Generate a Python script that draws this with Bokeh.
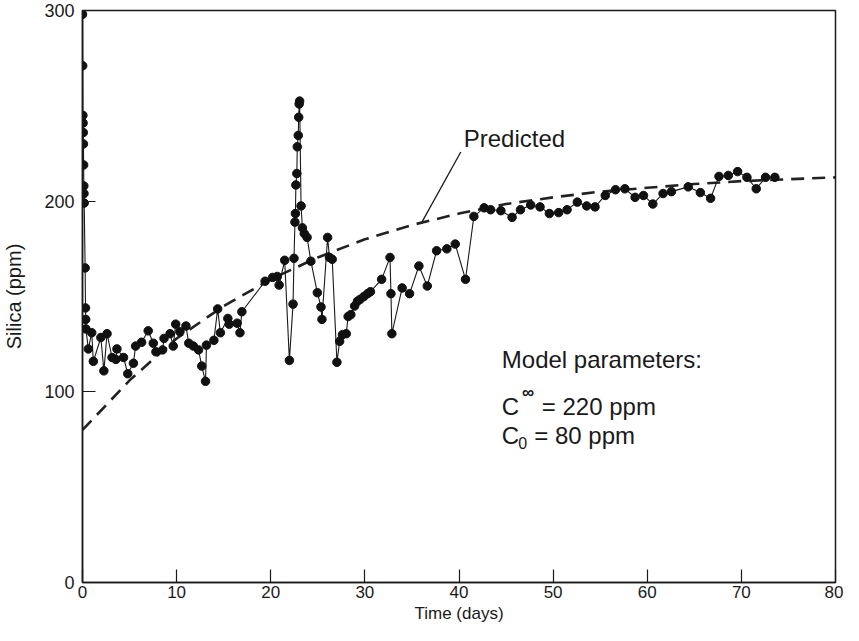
from bokeh.plotting import figure
from bokeh.models import Range1d, FixedTicker, Label, ColumnDataSource
from bokeh.embed import file_html
from bokeh.resources import INLINE

# ---- data ----
time_days = [
    0.00, 0.02, 0.04, 0.06, 0.08, 0.10, 0.12, 0.14, 0.16, 0.18,
    0.28, 0.32, 0.34, 0.36, 0.62, 0.98, 1.15, 1.95, 2.27, 2.61,
    3.14, 3.55, 3.66, 4.36, 4.81, 5.41, 5.64, 6.28, 6.98, 7.52,
    7.80, 8.51, 8.66, 9.30, 9.64, 9.90, 10.35, 10.99, 11.29, 11.78,
    12.33, 12.67, 13.07, 13.17, 13.96, 14.36, 14.65, 15.44, 15.59, 16.43,
    16.73, 16.93, 19.40, 20.20, 20.69, 20.89, 21.48, 21.98, 22.37, 22.47,
    22.57, 22.62, 22.67, 22.77, 22.82, 22.92, 22.97, 23.02, 23.07, 23.22,
    23.36, 23.56, 23.86, 24.26, 24.95, 25.34, 25.44, 26.04, 26.24, 26.53,
    27.03, 27.32, 27.62, 28.02, 28.22, 28.51, 28.91, 29.21, 29.50, 29.90,
    30.29, 30.59, 31.78, 32.67, 32.77, 32.87, 33.96, 34.75, 35.74, 36.63,
    37.62, 38.71, 39.60, 40.69, 41.58, 42.67, 43.36, 44.45, 45.64, 46.53,
    47.62, 48.61, 49.60, 50.59, 51.48, 52.57, 53.56, 54.45, 55.54, 56.63,
    57.62, 58.71, 59.60, 60.59, 61.68, 62.57, 64.35, 65.64, 66.73, 67.62,
    68.61, 69.60, 70.59, 71.58, 72.57, 73.56,
]
silica_ppm = [
    298, 271, 245, 241, 236, 230, 219, 208, 204, 199,
    165, 144, 138, 133, 122.5, 131, 116, 128.5, 111, 130.5,
    118, 117, 122.5, 118, 109.5, 115, 124, 126, 132, 125.5,
    121, 122, 128, 130.5, 124, 135.5, 131.5, 134.5, 125.5, 124,
    122, 113.5, 105.5, 124.5, 127, 143.5, 131, 138.5, 135.5, 136,
    131, 142, 158, 160, 160.5, 156, 169, 116.5, 146, 170,
    189, 193.5, 208.5, 214.5, 228.5, 234.5, 244, 251, 252.5, 197.5,
    186, 183, 181, 168.5, 152, 144.5, 138, 181, 170.5, 169.5,
    115.5, 126.5, 130, 130.5, 139.5, 140.5, 145, 147.5, 148.5, 150,
    151.5, 152.5, 159, 170.5, 151.5, 130.5, 154.5, 151.5, 166, 155.5,
    174, 175, 177.5, 159, 192, 196.5, 195.5, 195, 191.5, 195.5,
    198, 197, 193.5, 194, 195.5, 199.5, 197.5, 197, 203, 206,
    206.5, 202, 203, 198.5, 204, 205, 207.5, 204.5, 201.5, 213,
    213.5, 215.5, 212.5, 206.5, 212.5, 212.5,
]

# predicted (model) curve
pred_time = [0, 5, 10, 15, 20, 25, 30, 35, 40, 45, 50, 55, 60, 65, 70, 75, 80]
pred_silica = [80, 106, 128, 145, 159, 170.5, 180, 187.5, 193.5, 198.5, 202, 205, 207, 209, 210.5, 211.5, 212.5]

x_ticks = [0, 10, 20, 30, 40, 50, 60, 70, 80]
y_ticks = [0, 100, 200, 300]

FONT = "Liberation Sans"
INK = "#1a1a1a"

p = figure(width=843, height=625, output_backend="svg", toolbar_location=None,
           x_range=Range1d(0, 80), y_range=Range1d(0, 300),
           min_border_left=79, min_border_right=8, min_border_top=10,
           min_border_bottom=40)

p.grid.visible = False
p.outline_line_color = INK
p.outline_line_width = 1.5
p.outline_line_alpha = 1.0
p.background_fill_color = "white"
p.border_fill_color = "white"

for ax in (p.xaxis[0], p.yaxis[0]):
    ax.axis_line_color = INK
    ax.axis_line_width = 1.5
    ax.major_tick_line_color = INK
    ax.major_tick_line_width = 1.2
    ax.major_tick_in = 13
    ax.major_tick_out = 0
    ax.minor_tick_line_color = None
    ax.major_label_text_font = FONT
    ax.major_label_text_color = INK
    ax.axis_label_text_font = FONT
    ax.axis_label_text_font_style = "normal"
    ax.axis_label_text_color = INK

p.xaxis.ticker = FixedTicker(ticks=x_ticks)
p.yaxis.ticker = FixedTicker(ticks=y_ticks)
p.xaxis.axis_label = "Time (days)"
p.yaxis.axis_label = "Silica (ppm)"
p.xaxis.major_label_text_font_size = "17px"
p.yaxis.major_label_text_font_size = "18px"
p.xaxis.axis_label_text_font_size = "17px"
p.yaxis.axis_label_text_font_size = "20px"
p.xaxis.major_label_standoff = 3
p.xaxis.axis_label_standoff = 3
p.yaxis.major_label_standoff = 8
p.yaxis.axis_label_standoff = 16

# predicted dashed curve
p.line(pred_time, pred_silica, line_color="#222222", line_width=2.6, line_dash="13 8")

# observed data
src = ColumnDataSource(dict(t=time_days, c=silica_ppm))
p.line("t", "c", source=src, line_color=INK, line_width=1.1)
p.scatter("t", "c", source=src, size=8.5, fill_color="#111111", line_color="#111111")

# "Predicted" callout
p.segment(x0=[36.06], y0=[189.0], x1=[40.19], y1=[225.8], line_color=INK, line_width=1.3)
p.add_layout(Label(x=40.5, y=233, text="Predicted", text_font=FONT, text_font_size="24px",
                   text_color=INK, text_baseline="middle", text_align="left"))

# model parameters
p.add_layout(Label(x=44.55, y=116.8, text="Model parameters:", text_font=FONT,
                   text_font_size="24px", text_color=INK, text_baseline="middle"))
p.add_layout(Label(x=44.55, y=92.1, text="C", text_font=FONT,
                   text_font_size="24px", text_color=INK, text_baseline="middle"))
p.add_layout(Label(x=46.7, y=99.5, text="\u221e", text_font=FONT, text_font_style="bold",
                   text_font_size="17px", text_color=INK, text_baseline="middle"))
p.add_layout(Label(x=48.8, y=92.1, text="= 220 ppm", text_font=FONT,
                   text_font_size="24px", text_color=INK, text_baseline="middle"))
p.add_layout(Label(x=44.55, y=77.0, text="C", text_font=FONT,
                   text_font_size="24px", text_color=INK, text_baseline="middle"))
p.add_layout(Label(x=46.3, y=73.3, text="0", text_font=FONT,
                   text_font_size="16px", text_color=INK, text_baseline="middle"))
p.add_layout(Label(x=48.0, y=77.0, text="= 80 ppm", text_font=FONT,
                   text_font_size="24px", text_color=INK, text_baseline="middle"))

open("out.html", "w").write(file_html(p, INLINE))
